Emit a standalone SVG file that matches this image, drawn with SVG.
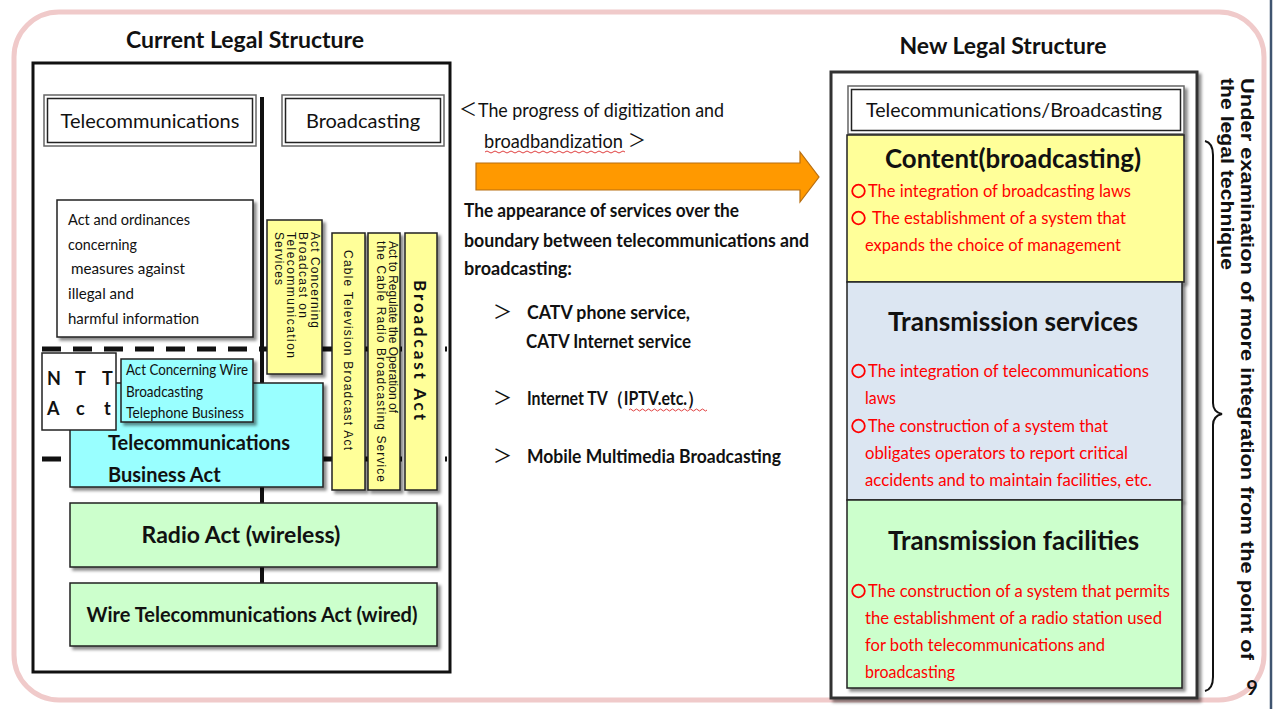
<svg xmlns="http://www.w3.org/2000/svg" width="1279" height="709" viewBox="0 0 1279 709">
  <defs>
    <filter id="shadow" x="-10%" y="-10%" width="130%" height="130%">
      <feDropShadow dx="3" dy="3" stdDeviation="1.8" flood-color="#000" flood-opacity="0.45"/>
    </filter>
    <style>
      text { font-family: Lato, "Liberation Sans", sans-serif; fill: #111; }
      .title { font-size: 23px; font-weight: bold; text-anchor: middle; }
      .hdr { font-size: 20px; text-anchor: middle; }
      .box { stroke: #222; stroke-width: 1.5; }
      .white { fill: #fff; }
      .cyan { fill: #99ffff; }
      .yellow { fill: #ffff99; }
      .green { fill: #ccffcc; }
      .blue { fill: #dce6f2; }
      .red { fill: #ff0000; font-size: 17.5px; }
      .circ { fill: none; stroke: #ff0000; stroke-width: 1.8; }
      .mid { font-size: 19px; font-weight: bold; }
      .cjk { font-family: "Noto Sans CJK JP", sans-serif; font-weight: normal; }
      .rot { font-family: "Liberation Sans", Arial, sans-serif; font-size: 12px; }
      .side { font-family: "Liberation Sans", Arial, sans-serif; font-size: 19px; font-weight: bold; }
    </style>
  </defs>

  <rect x="0" y="0" width="1279" height="709" fill="#fff"/>
  <!-- rounded slide frame -->
  <rect x="14" y="12" width="1250" height="688" rx="45" fill="#fff" stroke="#f0caca" stroke-width="5"/>
  <line x1="1271" y1="0" x2="1271" y2="709" stroke="#3f5470" stroke-width="2.5"/>

  <!-- ===== Current legal structure ===== -->
  <g id="current-title"><text class="title" x="245" y="48">Current Legal Structure</text></g>
  <g id="current-frame">
    <rect x="33" y="63" width="417" height="609" fill="#fff" stroke="#111" stroke-width="3"/>
  </g>

  <g id="connectors">
    <line x1="262" y1="97" x2="262" y2="585" stroke="#111" stroke-width="4"/>
    <line x1="42" y1="349" x2="447" y2="349" stroke="#111" stroke-width="5" stroke-dasharray="19 12"/>
    <line x1="42" y1="459" x2="447" y2="459" stroke="#111" stroke-width="5" stroke-dasharray="19 12"/>
  </g>

  <g id="telecom-header">
    <rect x="44" y="95" width="212" height="51" fill="#fff" stroke="#666" stroke-width="1.5"/>
    <rect x="47.5" y="98.5" width="205" height="44" fill="none" stroke="#222" stroke-width="1.5"/>
    <text class="hdr" x="150" y="128">Telecommunications</text>
  </g>
  <g id="broadcast-header">
    <rect x="282" y="95" width="162" height="51" fill="#fff" stroke="#666" stroke-width="1.5"/>
    <rect x="285.5" y="98.5" width="155" height="44" fill="none" stroke="#222" stroke-width="1.5"/>
    <text class="hdr" x="363" y="128">Broadcasting</text>
  </g>

  <g id="illegal-info">
    <rect class="box white" x="57" y="200" width="196" height="137" filter="url(#shadow)"/>
    <text x="68" y="225" font-size="16" textLength="122" lengthAdjust="spacingAndGlyphs">Act and ordinances</text>
    <text x="68" y="250" font-size="16" textLength="69" lengthAdjust="spacingAndGlyphs">concerning</text>
    <text x="71" y="274" font-size="16" textLength="114" lengthAdjust="spacingAndGlyphs">measures against</text>
    <text x="68" y="299" font-size="16" textLength="66" lengthAdjust="spacingAndGlyphs">illegal and</text>
    <text x="68" y="324" font-size="16" textLength="131" lengthAdjust="spacingAndGlyphs">harmful information</text>
  </g>

  <g id="telecom-business-act">
    <rect class="box cyan" x="70" y="383" width="253" height="104" filter="url(#shadow)"/>
    <text x="108" y="450" font-size="20" font-weight="bold">Telecommunications</text>
    <text x="108" y="482" font-size="20" font-weight="bold">Business Act</text>
  </g>

  <g id="ntt-act">
    <rect class="box white" x="42" y="353" width="74" height="77"/>
    <text x="47" y="385" font-size="18" font-weight="bold">N</text>
    <text x="75" y="385" font-size="18" font-weight="bold">T</text>
    <text x="102" y="385" font-size="18" font-weight="bold">T</text>
    <text x="47" y="415" font-size="18" font-weight="bold">A</text>
    <text x="76" y="415" font-size="18" font-weight="bold">c</text>
    <text x="104" y="415" font-size="18" font-weight="bold">t</text>
  </g>

  <g id="wire-broadcast-phone-act">
    <rect class="box cyan" x="121" y="359" width="132" height="63" filter="url(#shadow)"/>
    <text x="126" y="375" font-size="15" textLength="122" lengthAdjust="spacingAndGlyphs">Act Concerning Wire</text>
    <text x="126" y="397" font-size="15" textLength="77" lengthAdjust="spacingAndGlyphs">Broadcasting</text>
    <text x="126" y="418" font-size="15" textLength="118" lengthAdjust="spacingAndGlyphs">Telephone Business</text>
  </g>

  <g id="telecom-broadcast-services-act">
    <rect class="box yellow" x="267" y="220" width="55" height="154" filter="url(#shadow)"/>
    <text transform="translate(311,232) rotate(90)" class="rot" textLength="96" lengthAdjust="spacing">Act Concerning</text>
    <text transform="translate(299,232) rotate(90)" class="rot" textLength="86" lengthAdjust="spacing">Broadcast on</text>
    <text transform="translate(287,232) rotate(90)" class="rot" textLength="126" lengthAdjust="spacing">Telecommunication</text>
    <text transform="translate(275,232) rotate(90)" class="rot" textLength="53" lengthAdjust="spacing">Services</text>
  </g>

  <g id="cable-tv-act">
    <rect class="box yellow" x="332" y="233" width="33" height="257" filter="url(#shadow)"/>
    <text transform="translate(344,250) rotate(90)" class="rot" textLength="200" lengthAdjust="spacing">Cable Television Broadcast Act</text>
  </g>

  <g id="cable-radio-act">
    <rect class="box yellow" x="368" y="233" width="32" height="257" filter="url(#shadow)"/>
    <text transform="translate(389,241) rotate(90)" class="rot" textLength="172" lengthAdjust="spacing">Act to Regulate  the Operation of</text>
    <text transform="translate(377,241) rotate(90)" class="rot" textLength="241" lengthAdjust="spacing">the Cable Radio  Broadcasting  Service</text>
  </g>

  <g id="broadcast-act">
    <rect class="box yellow" x="405" y="233" width="32" height="257" filter="url(#shadow)"/>
    <text transform="translate(414,280) rotate(90)" font-family="Liberation Sans, Arial, sans-serif" font-size="17" font-weight="bold" textLength="140" lengthAdjust="spacing">Broadcast Act</text>
  </g>

  <g id="radio-act">
    <rect class="box green" x="70" y="503" width="367" height="64" filter="url(#shadow)"/>
    <text x="241" y="543" font-size="23" font-weight="bold" text-anchor="middle">Radio Act (wireless)</text>
  </g>

  <g id="wire-telecom-act">
    <rect class="box green" x="70" y="583" width="367" height="63" filter="url(#shadow)"/>
    <text x="252" y="622" font-size="20" font-weight="bold" text-anchor="middle">Wire Telecommunications Act (wired)</text>
  </g>

  <!-- ===== Transition ===== -->
  <g id="transition">
    <text class="cjk" x="459" y="116" font-size="18">＜</text>
    <text x="478" y="117" font-size="19" textLength="246" lengthAdjust="spacingAndGlyphs">The progress of digitization and</text>
    <text x="484" y="148" font-size="19" textLength="139" lengthAdjust="spacingAndGlyphs">broadbandization</text>
    <text class="cjk" x="628" y="147" font-size="18">＞</text>
    <path d="M485 152 q2 -2 4 0 t4 0 t4 0 t4 0 t4 0 t4 0 t4 0 t4 0 t4 0 t4 0 t4 0 t4 0 t4 0 t4 0 t4 0 t4 0 t4 0 t4 0 t4 0 t4 0 t4 0 t4 0 t4 0 t4 0 t4 0 t4 0 t4 0 t4 0 t4 0 t4 0 t4 0 t4 0 t4 0 t4 0 t4 0" fill="none" stroke="#e04040" stroke-width="1"/>
    <path d="M476 163 H800 V152 L819 177 L800 202 V190 H476 Z" fill="#ff9900" stroke="#b86e10" stroke-width="1.2"/>
    <text class="mid" x="464" y="217" textLength="275" lengthAdjust="spacingAndGlyphs">The appearance of services over the</text>
    <text class="mid" x="464" y="247" textLength="345" lengthAdjust="spacingAndGlyphs">boundary  between telecommunications and</text>
    <text class="mid" x="464" y="275" textLength="108" lengthAdjust="spacingAndGlyphs">broadcasting:</text>
    <text class="cjk" x="493" y="319" font-size="19">＞</text>
    <text class="mid" x="527" y="319" textLength="163" lengthAdjust="spacingAndGlyphs">CATV  phone service,</text>
    <text class="mid" x="526" y="348" textLength="165" lengthAdjust="spacingAndGlyphs">CATV Internet service</text>
    <text class="cjk" x="493" y="405" font-size="19">＞</text>
    <text class="mid" x="527" y="405" textLength="176" lengthAdjust="spacingAndGlyphs">Internet TV（IPTV.etc.）</text>
    <path d="M629 410 q1.5 -2 3 0 t3 0 t3 0 t3 0 t3 0 t3 0 t3 0 t3 0 t3 0 t3 0 t3 0 t3 0 t3 0 t3 0 t3 0 t3 0 t3 0 t3 0 t3 0 t3 0 t3 0 t3 0 t3 0 t3 0 t3 0 t3 0" fill="none" stroke="#e04040" stroke-width="1"/>
    <text class="cjk" x="493" y="463" font-size="19">＞</text>
    <text class="mid" x="527" y="463" textLength="254" lengthAdjust="spacingAndGlyphs">Mobile Multimedia Broadcasting</text>
  </g>

  <!-- ===== New legal structure ===== -->
  <g id="new-title"><text class="title" x="1003" y="54">New Legal Structure</text></g>
  <g id="new-frame">
    <rect x="831" y="72" width="366" height="626" fill="#fff" stroke="#333" stroke-width="3" filter="url(#shadow)"/>
  </g>

  <g id="tb-header">
    <rect x="848" y="86" width="336" height="48" fill="#fff" stroke="#666" stroke-width="1.5" filter="url(#shadow)"/>
    <rect x="851.5" y="89.5" width="329" height="41" fill="none" stroke="#222" stroke-width="1.5"/>
    <text x="866" y="117" font-size="19" textLength="296" lengthAdjust="spacingAndGlyphs">Telecommunications/Broadcasting</text>
  </g>

  <g id="content-layer">
    <rect class="box yellow" x="847" y="135" width="337" height="147" filter="url(#shadow)"/>
    <text x="885" y="168" font-size="26" font-weight="bold" textLength="256" lengthAdjust="spacingAndGlyphs">Content(broadcasting)</text>
    <circle class="circ" cx="858.5" cy="191" r="6.3"/>
    <text class="red" x="868" y="197" textLength="263" lengthAdjust="spacingAndGlyphs">The integration of broadcasting  laws</text>
    <circle class="circ" cx="858.5" cy="218" r="6.3"/>
    <text class="red" x="872" y="224" textLength="254" lengthAdjust="spacingAndGlyphs">The establishment  of a system  that</text>
    <text class="red" x="865" y="251" textLength="256" lengthAdjust="spacingAndGlyphs">expands the choice  of management</text>
  </g>

  <g id="services-layer">
    <rect class="box blue" x="847" y="282" width="335" height="218" filter="url(#shadow)"/>
    <text x="888" y="331" font-size="26" font-weight="bold" textLength="250" lengthAdjust="spacingAndGlyphs">Transmission  services</text>
    <circle class="circ" cx="858.5" cy="371" r="6.3"/>
    <text class="red" x="868" y="377" textLength="281" lengthAdjust="spacingAndGlyphs">The integration of telecommunications</text>
    <text class="red" x="865" y="404" textLength="31" lengthAdjust="spacingAndGlyphs">laws</text>
    <circle class="circ" cx="858.5" cy="426" r="6.3"/>
    <text class="red" x="868" y="432" textLength="240" lengthAdjust="spacingAndGlyphs">The construction  of a system that</text>
    <text class="red" x="865" y="459" textLength="263" lengthAdjust="spacingAndGlyphs">obligates operators  to report critical</text>
    <text class="red" x="865" y="486" textLength="287" lengthAdjust="spacingAndGlyphs">accidents and to maintain  facilities,  etc.</text>
  </g>

  <g id="facilities-layer">
    <rect class="box green" x="847" y="500" width="335" height="188" filter="url(#shadow)"/>
    <text x="888" y="550" font-size="26" font-weight="bold" textLength="251" lengthAdjust="spacingAndGlyphs">Transmission  facilities</text>
    <circle class="circ" cx="858.5" cy="591" r="6.3"/>
    <text class="red" x="868" y="597" textLength="302" lengthAdjust="spacingAndGlyphs">The construction  of a system that permits</text>
    <text class="red" x="865" y="624" textLength="297" lengthAdjust="spacingAndGlyphs">the establishment  of a radio station used</text>
    <text class="red" x="865" y="651" textLength="240" lengthAdjust="spacingAndGlyphs">for both telecommunications  and</text>
    <text class="red" x="865" y="678" textLength="90" lengthAdjust="spacingAndGlyphs">broadcasting</text>
  </g>

  <g id="examination-note">
    <path d="M1205 141 Q1213 143 1213 155 V403 Q1213 412 1222 414 Q1213 416 1213 425 V677 Q1213 689 1205 691" fill="none" stroke="#111" stroke-width="2"/>
    <text transform="translate(1241,78) rotate(90)" class="side" textLength="582" lengthAdjust="spacingAndGlyphs">Under examination of  more integration from  the  point of</text>
    <text transform="translate(1221,78) rotate(90)" class="side" font-size="18" textLength="192" lengthAdjust="spacingAndGlyphs">the legal technique</text>
    <text x="1252" y="695" font-size="20" font-weight="bold" text-anchor="middle" font-family="Liberation Sans, Arial, sans-serif">9</text>
  </g>
</svg>
